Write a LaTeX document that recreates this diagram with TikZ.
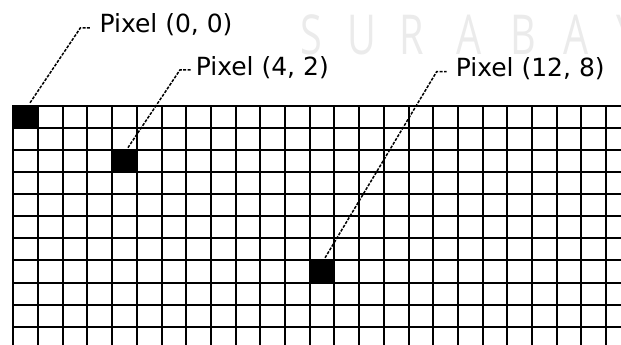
\documentclass[tikz,border=0pt]{standalone}
\usepackage{fontspec}
\setmainfont{DejaVu Sans}
\newfontfamily\wmfont{Open Sans}
\usetikzlibrary{calc}
\begin{document}
\begin{tikzpicture}[x=1pt,y=-1pt,
  gridline/.style={line width=2pt, black, line cap=rect},
  pix/.style={fill=black, draw=none, minimum width=24.7pt, minimum height=22.1pt, inner sep=0pt},
  leader/.style={line width=1.5pt, black, dash pattern=on 3pt off 1.4pt},
  lbl/.style={anchor=base west, inner sep=0pt, font=\fontsize{25}{30}\selectfont},
  wm/.style={anchor=base, inner sep=0pt, text=black!8, font=\wmfont\fontsize{55}{60}\selectfont}]
\useasboundingbox (0,0) rectangle (621,345);
\fill[white] (0,0) rectangle (621,345);
\clip (0,0) rectangle (621,345);
% watermark
\foreach \c/\x in {S/311.5, U/361.5, R/412, A/469, B/523.5, A/576, Y/628}
  \node[wm] at (\x,54.5) {\scalebox{0.72}[1]{\c}};
% grid
\foreach \k in {0,...,10}
  \draw[gridline] (13.3,{105.7+22.1*\k}) -- (630,{105.7+22.1*\k});
\foreach \k in {0,...,24}
  \draw[gridline] ({13.3+24.7*\k},105.7) -- ({13.3+24.7*\k},360);
% black pixels
\node[pix] (p1) at (25.65,116.75) {};
\node[pix] (p2) at (124.45,160.95) {};
\node[pix] (p3) at (322.05,271.45) {};
% labels
\node[lbl] (l1) at (99.3,32.3) {Pixel (0, 0)};
\node[lbl] (l2) at (195.6,75) {Pixel (4, 2)};
\node[lbl] (l3) at (455.6,77) {Pixel (12, 8)};
% leader coordinates
\coordinate (e1) at ($(l1.base west)+(-9,-4.3)$);
\coordinate (c1) at ($(e1)+(-10,0)$);
\coordinate (e2) at ($(l2.base west)+(-4,-5)$);
\coordinate (c2) at ($(e2)+(-11.7,0)$);
\coordinate (e3) at ($(l3.base west)+(-9,-5.3)$);
\coordinate (c3) at ($(e3)+(-10,0)$);
\draw[leader] ($(p1.north)+(4.4,-2.7)$) -- (c1) -- (e1);
\draw[leader] ($(p2.north)+(3.5,-2)$) -- (c2) -- (e2);
\draw[leader] ($(p3.north)+(3,-2.4)$) -- (c3) -- (e3);
\end{tikzpicture}
\end{document}
